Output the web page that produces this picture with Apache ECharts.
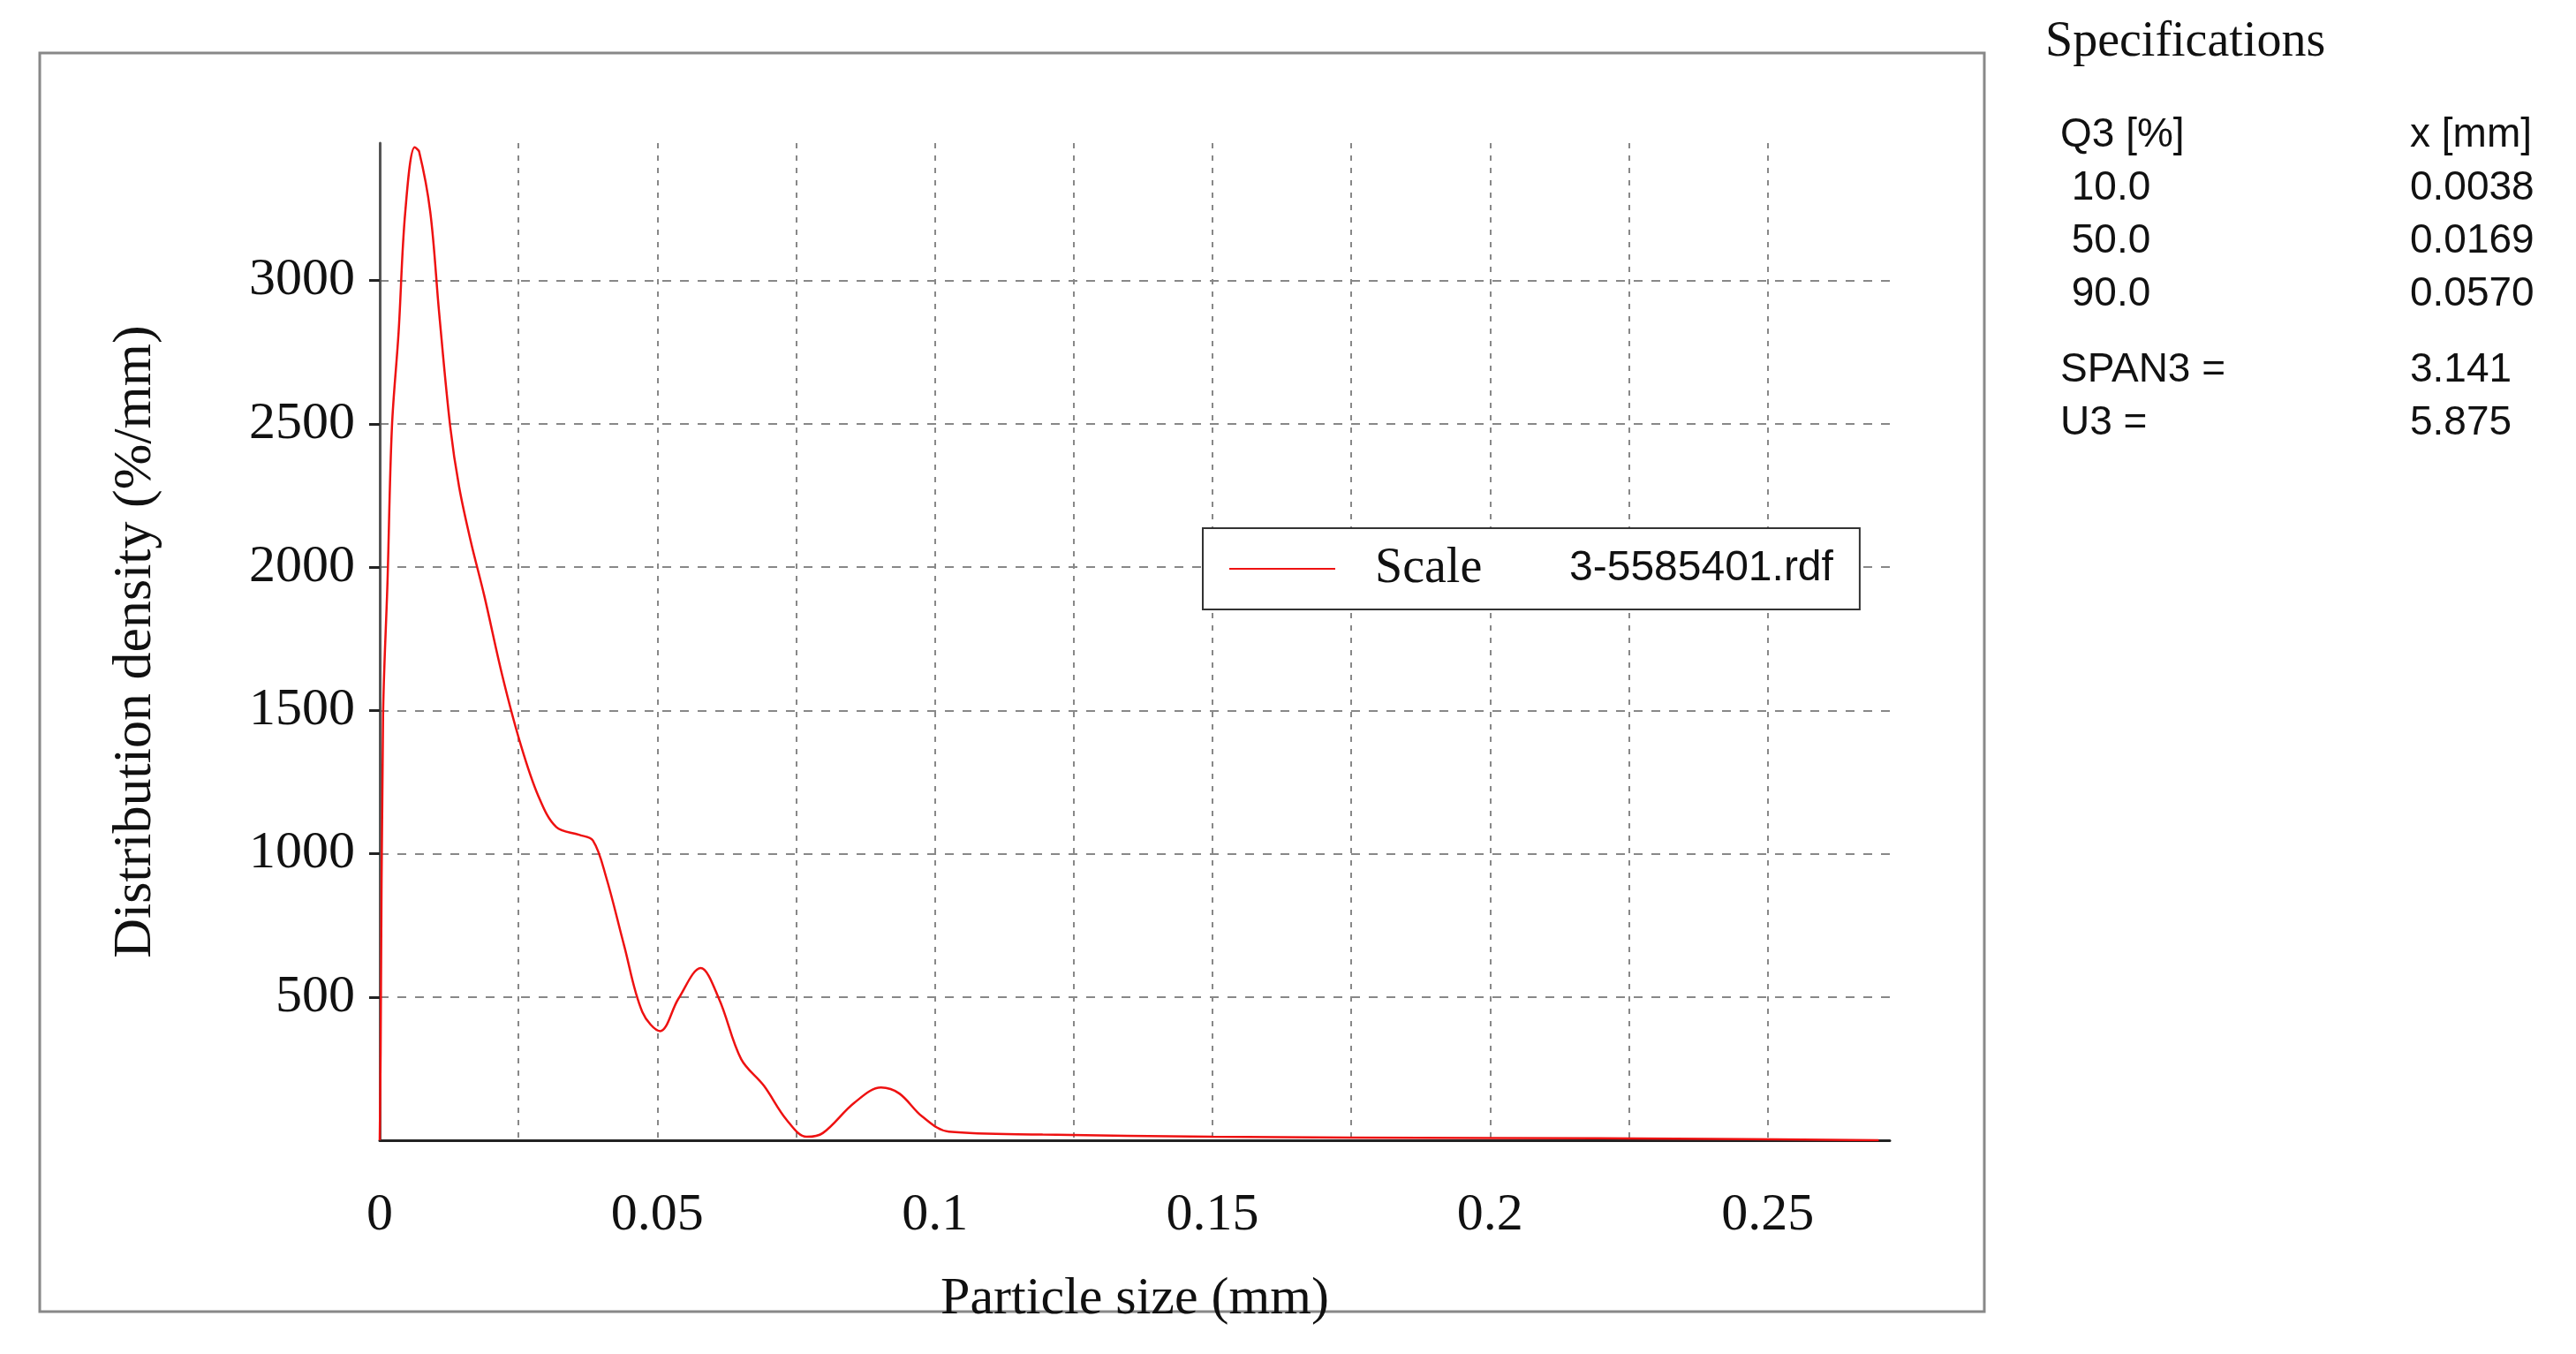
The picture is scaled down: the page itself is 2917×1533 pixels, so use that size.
<!DOCTYPE html>
<html>
<head>
<meta charset="utf-8">
<script src="https://cdn.jsdelivr.net/npm/echarts@6/dist/echarts.min.js"></script>
<style>
  html, body { margin: 0; padding: 0; background: #fff; }
  #chart { width: 2917px; height: 1533px; }
</style>
</head>
<body>
<div id="chart"></div>
<script>
// particle size (mm) and distribution density (%/mm)
var sizes = [0, 0.00016, 0.0006, 0.0014, 0.0022, 0.0034, 0.0046, 0.0063, 0.0071, 0.0091, 0.0107,
    0.0127, 0.0143, 0.0164, 0.0188, 0.0221, 0.0253, 0.0286, 0.0318, 0.0359, 0.0384, 0.0408,
    0.0440, 0.0473, 0.0505, 0.0538, 0.0578, 0.0611, 0.0651, 0.0692, 0.0733, 0.0769, 0.0798,
    0.0855, 0.0903, 0.0936, 0.0977, 0.1025, 0.1194, 0.15, 0.2, 0.24, 0.27];
var density = [0, 306, 1480, 1950, 2490, 2820, 3240, 3465, 3450, 3240, 2888,
    2490, 2280, 2090, 1903, 1620, 1387, 1200, 1093, 1066, 1046, 917,
    681, 448, 381, 494, 601, 494, 283, 190, 71, 12, 25,
    131, 184, 163, 83, 30, 20, 12, 8, 5, 0];
var seriesName = 'Scale';
var fileName = '3-5585401.rdf';
var specRows = [['Q3 [%]', 'x [mm]'], [' 10.0', '0.0038'], [' 50.0', '0.0169'], [' 90.0', '0.0570']];
var specStats = [['SPAN3 =', '3.141'], ['U3 =', '5.875']];

var points = sizes.map(function (x, i) { return [x, density[i]]; });
var serif = '"Liberation Serif", "DejaVu Serif", serif';
var sans = '"Liberation Sans", Arial, sans-serif';

var graphics = [
    { type: 'rect', shape: { x: 45, y: 60, width: 2202, height: 1425 },
      style: { fill: null, stroke: '#888', lineWidth: 3 }, z: -1 },
    { type: 'text', left: 2316, top: 20, style: { text: 'Specifications', fontSize: 56, fontFamily: serif, fill: '#111' } }
];
specRows.forEach(function (r, i) {
    var y = 130 + i * 60;
    graphics.push({ type: 'text', left: 2333, top: y, style: { text: r[0], fontSize: 46, fontFamily: sans, fill: '#111' } });
    graphics.push({ type: 'text', left: 2729, top: y, style: { text: r[1], fontSize: 46, fontFamily: sans, fill: '#111' } });
});
specStats.forEach(function (r, i) {
    var y = 396 + i * 60;
    graphics.push({ type: 'text', left: 2333, top: y, style: { text: r[0], fontSize: 46, fontFamily: sans, fill: '#111' } });
    graphics.push({ type: 'text', left: 2729, top: y, style: { text: r[1], fontSize: 46, fontFamily: sans, fill: '#111' } });
});

var chart = echarts.init(document.getElementById('chart'));
chart.setOption({
    animation: false,
    backgroundColor: '#fff',
    grid: { left: 430, top: 162, right: 777, bottom: 242 },
    legend: {
        left: 1362, top: 598,
        padding: [18, 30, 18, 30],
        borderColor: '#333', borderWidth: 2,
        backgroundColor: '#fff',
        itemWidth: 120, itemHeight: 20, itemGap: 0,
        icon: 'path://M0,9 L120,9 L120,11 L0,11 Z',
        data: [seriesName],
        formatter: function (name) { return '{a|' + name + '}{b|' + fileName + '}'; },
        textStyle: {
            rich: {
                a: { fontSize: 56, fontFamily: serif, color: '#111', width: 220, padding: [0, 0, 0, 40] },
                b: { fontSize: 48, fontFamily: sans, color: '#111' }
            }
        }
    },
    xAxis: {
        type: 'value', min: 0, max: 0.272, interval: 0.025,
        name: 'Particle size (mm)', nameLocation: 'middle', nameGap: 150,
        nameTextStyle: { fontSize: 60, fontFamily: serif, color: '#111' },
        axisLine: { lineStyle: { color: '#222', width: 3 } },
        axisTick: { show: false },
        axisLabel: {
            margin: 55, color: '#111', fontFamily: serif, fontSize: 60,
            showMaxLabel: false,
            formatter: function (v) {
                var k = Math.round(v / 0.025);
                return k % 2 === 0 ? String(+(v.toFixed(2))) : '';
            }
        },
        splitLine: { show: true, showMaxLine: false, lineStyle: { type: [6, 8], color: '#888', width: 2 } }
    },
    yAxis: {
        type: 'value', min: 0, max: 3480, interval: 500,
        name: 'Distribution density (%/mm)', nameLocation: 'middle', nameGap: 245,
        nameTextStyle: { fontSize: 62, fontFamily: serif, color: '#111' },
        axisLine: { show: true, lineStyle: { color: '#555', width: 3 } },
        axisTick: { show: true, inside: false, length: 12, lineStyle: { color: '#222', width: 3 } },
        axisLabel: {
            margin: 28, color: '#111', fontFamily: serif, fontSize: 60,
            showMaxLabel: false, showMinLabel: false,
            formatter: function (v) { return String(v); }
        },
        splitLine: { show: true, showMaxLine: false, lineStyle: { type: [10, 10], color: '#888', width: 2 } }
    },
    series: [{
        name: seriesName, type: 'line', data: points, smooth: 0.35,
        showSymbol: false, color: '#ee1111',
        lineStyle: { color: '#ee1111', width: 2.5 }
    }],
    graphic: graphics
});
</script>
</body>
</html>
